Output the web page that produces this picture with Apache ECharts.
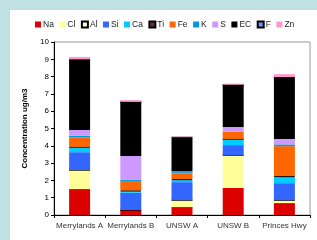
<!DOCTYPE html>
<html>
<head>
<meta charset="utf-8">
<script src="https://cdn.jsdelivr.net/npm/echarts@6/dist/echarts.min.js"></script>
<style>
  html, body { margin: 0; padding: 0; background: #bfe1e3; }
  #panel { position: absolute; left: 10px; top: 10px; width: 307px; height: 230px; background: #fff; }
  #chart { width: 307px; height: 230px; }
</style>
</head>
<body>
<div id="panel"><div id="chart"></div></div>
<script>
// sites along the x axis
const sites = ['Merrylands A', 'Merrylands B', 'UNSW A', 'UNSW B', 'Princes Hwy'];
const yTicks = [0, 1, 2, 3, 4, 5, 6, 7, 8, 9, 10];

// stacked components, ug/m3, bottom to top
const na = [1.50, 0.29, 0.46, 1.56, 0.69];
const cl = [1.10, 0.00, 0.40, 1.90, 0.17];
const al = [0.00, 0.00, 0.00, 0.00, 0.00];
const si = [1.03, 1.00, 1.04, 0.58, 0.98];
const ca = [0.29, 0.08, 0.12, 0.35, 0.35];
const ti = [0.02, 0.05, 0.05, 0.01, 0.06];
const fe = [0.54, 0.54, 0.33, 0.40, 1.73];
const k  = [0.10, 0.08, 0.08, 0.02, 0.10];
const s  = [0.34, 1.37, 0.04, 0.27, 0.31];
const ec = [4.08, 3.13, 1.96, 2.44, 3.58];
const f  = [0.00, 0.00, 0.02, 0.00, 0.00];
const zn = [0.14, 0.10, 0.03, 0.06, 0.17];

const parts = [
  ['Na', na, '#dd0000', null],
  ['Cl', cl, '#ffff99', null],
  ['Al', al, '#ffffcc', '#000'],
  ['Si', si, '#3366ff', null],
  ['Ca', ca, '#00ccff', null],
  ['Ti', ti, '#663333', '#000'],
  ['Fe', fe, '#ff6600', null],
  ['K', k, '#0099dd', null],
  ['S', s, '#cc99ff', null],
  ['EC', ec, '#000000', null],
  ['F', f, '#6699ff', '#000'],
  ['Zn', zn, '#ff99cc', null]
];

const series = parts.map(p => ({
  name: p[0],
  type: 'bar',
  stack: 'total',
  data: p[1],
  barCategoryGap: '59%',
  itemStyle: { color: p[2], borderColor: p[3] || p[2], borderWidth: p[3] ? 0.8 : 0 }
}));

let myChart = echarts.init(document.getElementById('chart'));
myChart.setOption({
  animation: false,
  textStyle: { fontFamily: 'Liberation Sans, Arial, sans-serif' },
  legend: {
    left: 20, top: 5,
    itemWidth: 6, itemHeight: 6, itemGap: 5.5,
    icon: 'rect',
    textStyle: { fontSize: 8.5, color: '#222', padding: [0, 0, 0, -3] },
    data: parts.map(p => p[0])
  },
  grid: {
    left: 44, right: 7, top: 32, bottom: 25,
    show: true, borderColor: '#999', borderWidth: 1, backgroundColor: 'transparent'
  },
  xAxis: {
    type: 'category',
    data: sites,
    axisLine: { lineStyle: { color: '#000', width: 1 } },
    axisTick: { show: true, length: 3, lineStyle: { color: '#000' } },
    axisLabel: { fontSize: 8, color: '#333', margin: 7, interval: 0 }
  },
  yAxis: {
    type: 'value',
    min: yTicks[0], max: yTicks[yTicks.length - 1], interval: 1,
    name: 'Concentration ug/m3',
    nameLocation: 'middle', nameGap: 21,
    nameTextStyle: { fontSize: 8, fontWeight: 'bold', color: '#000' },
    axisLine: { show: true, lineStyle: { color: '#000', width: 1 } },
    axisTick: { show: true, length: 3, lineStyle: { color: '#000' } },
    axisLabel: { fontSize: 8, color: '#000', margin: 5 },
    splitLine: { show: false }
  },
  series: series
});
</script>
</body>
</html>
